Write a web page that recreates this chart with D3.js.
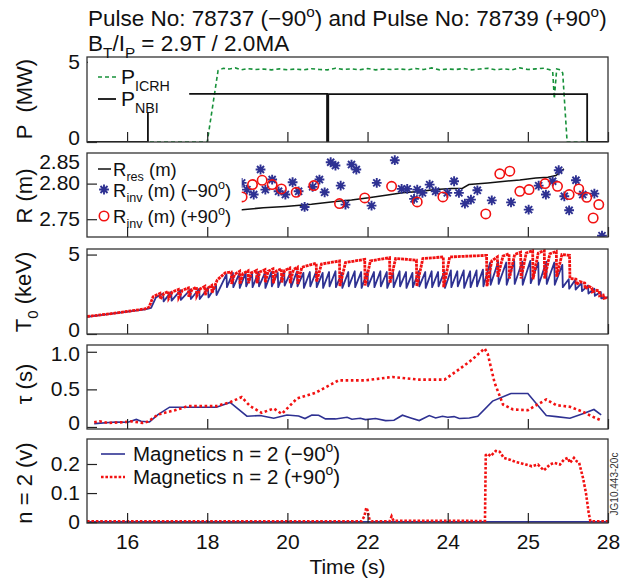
<!DOCTYPE html>
<html><head><meta charset="utf-8">
<script src="https://cdn.jsdelivr.net/npm/d3@7"></script>
<style>body{margin:0;background:#fff}svg{display:block}text{white-space:pre}</style>
</head><body>
<svg id="chart" width="620" height="580"></svg>
<script>
// ---------- data ----------
const xTickValues = [16, 18, 20, 22, 24, 26, 28];
const xTickLabels = ["16", "18", "20", "22", "24", "25", "28"];

// Heating power (MW)
const icrhPower = [[15,0],[18.0,0],[18.27,4.45],[18.4,4.6],[18.55,4.55],[18.7,4.62],[18.85,4.5],[19.0,4.58],[19.2,4.52],[19.4,4.55],[19.6,4.5],[19.8,4.56],[20.0,4.5],[20.2,4.55],[20.4,4.5],[20.6,4.57],[20.8,4.52],[21.0,4.5],[21.2,4.6],[21.4,4.52],[21.6,4.56],[21.8,4.5],[22.0,4.58],[22.2,4.5],[22.4,4.55],[22.6,4.52],[22.8,4.56],[23.0,4.5],[23.2,4.58],[23.4,4.52],[23.6,4.62],[23.8,4.5],[24.0,4.55],[24.2,4.52],[24.4,4.58],[24.6,4.5],[24.8,4.55],[25.0,4.6],[25.2,4.5],[25.4,4.56],[25.6,4.5],[25.8,4.62],[26.0,4.52],[26.2,4.56],[26.4,4.6],[26.55,4.5],[26.62,4.4],[26.66,2.7],[26.72,4.55],[26.82,4.5],[26.87,4.3],[26.98,0],[28,0]];
const nbiPower = [[15,0],[16.52,0],[16.52,3.0],[20.99,3.0],[20.99,0],[21.02,0],[21.02,2.98],[27.48,2.98],[27.48,0],[28,0]];

// Radii (m)
const rRes = [[18.5,2.762],[18.87,2.7634],[19.4,2.766],[19.95,2.768],[20.6,2.771],[21.2,2.775],[21.6,2.777],[22.03,2.780],[22.5,2.784],[22.87,2.787],[23.3,2.789],[23.7,2.7916],[24.1,2.793],[24.37,2.7935],[24.53,2.7986],[25.0,2.801],[25.37,2.803],[25.8,2.805],[26.2,2.808],[26.5,2.809],[26.7,2.8113],[26.83,2.8174],[26.9,2.8207]];
const rInvMinus = [[18.86,2.801],[18.99,2.7916],[19.16,2.7846],[19.33,2.8198],[19.45,2.7916],[19.62,2.8057],[19.78,2.7892],[19.95,2.7846],[20.13,2.8019],[20.28,2.7892],[20.43,2.7672],[20.63,2.7954],[20.8,2.8057],[20.93,2.7878],[21.08,2.830],[21.2,2.8254],[21.33,2.7972],[21.45,2.7705],[21.6,2.8268],[21.72,2.8198],[22.1,2.7691],[22.23,2.801],[22.68,2.8329],[22.85,2.7926],[22.99,2.7926],[23.16,2.7785],[23.24,2.7916],[23.37,2.787],[23.55,2.7986],[23.7,2.7892],[23.99,2.787],[24.16,2.8033],[24.28,2.787],[24.43,2.7719],[24.58,2.7775],[24.74,2.7906],[25.1,2.7765],[25.58,2.7737],[26.02,2.7634],[26.27,2.7972],[26.45,2.7846],[26.62,2.8033],[26.77,2.8188],[26.91,2.7822],[27.03,2.7625],[27.2,2.8047],[27.37,2.7846],[27.66,2.786],[27.85,2.7268]];
const rInvPlus = [[18.87,2.7813],[19.13,2.7986],[19.37,2.8047],[19.62,2.7986],[19.85,2.7926],[20.22,2.7878],[20.66,2.7972],[21.3,2.7719],[21.93,2.7799],[22.6,2.7962],[23.24,2.7743],[23.88,2.7813],[24.95,2.7574],[25.3,2.8137],[25.55,2.8174],[25.8,2.7892],[26.03,2.7916],[26.43,2.800],[26.74,2.7962],[27.03,2.7846],[27.27,2.7926],[27.47,2.7808],[27.63,2.7517],[27.77,2.7705]];

// Central electron temperature (keV)
const t0Plus = [[15.0,1.10],[15.5,1.25],[16.0,1.42],[16.45,1.58],[16.55,1.70],[16.65,2.35],[16.82,2.55],[16.83,2.2],[16.92,2.55],[17.03,2.68],[17.04,2.25],[17.13,2.65],[17.28,2.8],[17.29,2.3],[17.38,2.75],[17.53,2.9],[17.54,2.35],[17.62,2.8],[17.73,2.95],[17.74,2.4],[17.83,2.85],[17.94,3.0],[17.95,2.45],[18.02,2.9],[18.11,3.05],[18.12,2.6],[18.25,3.4],[18.45,3.85],[18.6,3.9],[18.61,3.15],[18.68,3.75],[18.81,3.95],[18.82,3.15],[18.89,3.8],[19.02,3.98],[19.03,3.2],[19.1,3.85],[19.23,4.0],[19.24,3.2],[19.31,3.9],[19.44,4.05],[19.45,3.25],[19.52,3.95],[19.64,4.1],[19.65,3.2],[19.72,3.95],[19.85,4.1],[19.86,3.25],[19.93,4.0],[20.06,4.15],[20.07,3.2],[20.15,4.05],[20.25,4.2],[20.26,3.15],[20.36,4.2],[20.72,4.45],[20.73,3.3],[20.85,4.4],[21.3,4.6],[21.31,3.0],[21.45,4.5],[21.93,4.7],[21.94,3.05],[22.07,4.6],[22.55,4.8],[22.56,3.2],[22.7,4.75],[23.22,4.65],[23.23,3.0],[23.38,4.75],[23.89,4.85],[23.9,2.95],[24.05,4.85],[24.97,4.95],[24.98,3.0],[25.1,4.6],[25.24,4.85],[25.25,3.6],[25.38,4.9],[25.53,5.05],[25.54,3.5],[25.67,5.0],[25.82,5.15],[25.83,3.5],[25.96,5.1],[26.12,5.25],[26.13,3.45],[26.26,5.1],[26.41,5.25],[26.42,3.5],[26.55,5.05],[26.71,5.2],[26.72,3.6],[26.85,5.0],[27.04,4.95],[27.05,3.5],[27.2,3.45],[27.21,3.1],[27.3,3.3],[27.42,3.2],[27.43,2.85],[27.52,3.0],[27.6,2.9],[27.61,2.65],[27.72,2.75],[27.78,2.7],[27.79,2.4],[27.88,2.45],[27.9,2.25],[28.0,2.3]];
const t0MinusStart = [[15.0,1.08],[16.45,1.55],[16.6,1.65],[16.72,2.3]];
// sawtooth crashes: [time, value before crash, value after crash]
const t0MinusCrashes = [[16.9,2.55,2.05],[17.1,2.65,2.1],[17.33,2.75,2.15],[17.58,2.8,2.2],[17.8,2.85,2.2],[18.02,2.9,2.3],[18.22,3.05,2.45],[18.48,3.75,2.95],[18.64,3.85,2.95],[18.8,3.8,2.9],[18.96,3.85,3.0],[19.12,3.8,2.95],[19.28,3.9,3.0],[19.44,3.85,2.9],[19.6,3.9,3.0],[19.76,3.85,2.95],[19.92,3.95,3.05],[20.08,3.9,2.95],[20.24,3.95,3.0],[20.4,3.85,2.9],[20.56,3.9,3.0],[20.72,3.95,2.95],[20.88,3.85,2.9],[21.04,3.9,3.0],[21.2,3.95,2.95],[21.36,3.85,2.9],[21.52,3.9,3.0],[21.68,3.95,2.95],[21.84,3.9,2.9],[22.0,3.95,3.0],[22.16,3.9,2.95],[22.32,3.95,3.0],[22.48,3.9,2.9],[22.64,3.85,2.95],[22.8,3.95,3.0],[22.96,3.9,2.9],[23.12,3.85,2.95],[23.28,3.95,3.0],[23.44,3.9,2.9],[23.6,3.95,2.95],[23.76,3.9,3.0],[23.92,3.95,2.9],[24.08,4.0,2.95],[24.24,3.95,3.0],[24.4,4.0,2.9],[24.56,3.95,2.95],[24.72,4.0,3.0],[24.88,4.05,3.0],[25.06,4.5,3.1],[25.26,4.55,3.15],[25.46,4.5,3.1],[25.66,4.6,3.15],[25.86,4.55,3.1],[26.06,4.6,3.2],[26.26,4.5,3.1],[26.46,4.55,3.15],[26.66,4.5,3.1],[26.86,4.35,2.95],[27.02,3.45,2.85],[27.18,3.4,2.8],[27.34,3.2,2.7],[27.5,3.05,2.55],[27.66,2.85,2.4],[27.82,2.65,2.25]];
const t0MinusEnd = [[28.0,2.3]];

// Sawtooth period (s)
const tauMinus = [[15.18,0.045],[15.72,0.067],[16.02,0.063],[16.23,0.10],[16.35,0.076],[16.56,0.067],[16.77,0.165],[17.06,0.263],[18.23,0.263],[18.57,0.326],[18.99,0.143],[19.32,0.152],[19.66,0.116],[19.99,0.16],[20.28,0.147],[20.44,0.112],[20.61,0.16],[20.78,0.156],[20.95,0.107],[21.2,0.107],[21.49,0.129],[21.61,0.103],[21.82,0.116],[21.95,0.098],[22.2,0.112],[22.45,0.085],[22.66,0.089],[22.87,0.156],[23.08,0.12],[23.29,0.085],[23.54,0.152],[23.7,0.12],[23.87,0.143],[24.0,0.13],[24.16,0.138],[24.29,0.112],[24.54,0.12],[24.75,0.143],[25.12,0.344],[25.58,0.446],[26.0,0.446],[26.46,0.152],[26.71,0.138],[27.05,0.116],[27.39,0.178],[27.65,0.232],[27.83,0.16]];
const tauPlus = [[15.18,0.063],[15.31,0.076],[15.52,0.054],[15.93,0.063],[16.1,0.076],[16.39,0.054],[16.52,0.071],[16.77,0.165],[17.19,0.223],[17.52,0.277],[18.23,0.277],[18.57,0.33],[18.86,0.397],[19.07,0.277],[19.36,0.188],[19.66,0.246],[19.86,0.174],[20.24,0.379],[20.7,0.455],[21.28,0.62],[21.95,0.62],[22.62,0.665],[23.29,0.629],[23.92,0.629],[24.29,0.768],[24.62,0.90],[24.92,1.045],[25.0,0.97],[25.17,0.589],[25.38,0.299],[25.63,0.232],[26.0,0.223],[26.17,0.277],[26.46,0.366],[26.71,0.29],[27.05,0.268],[27.34,0.21],[27.59,0.143],[27.84,0.085]];

// n = 2 magnetics amplitude (V)
const n2Minus = [[15,0.001],[24.95,0.001],[28,0.001]];
const n2Plus = [[15,0.003],[21.85,0.003],[21.92,0.02],[21.97,0.05],[22.0,0.04],[22.05,0.008],[22.1,0.003],[22.55,0.003],[22.6,0.02],[22.65,0.005],[24.93,0.004],[24.95,0.23],[25.0,0.235],[25.07,0.227],[25.2,0.245],[25.3,0.242],[25.4,0.221],[25.55,0.215],[25.7,0.207],[25.8,0.204],[25.95,0.198],[26.1,0.192],[26.25,0.198],[26.4,0.178],[26.55,0.198],[26.65,0.204],[26.8,0.198],[26.9,0.215],[27.0,0.221],[27.05,0.204],[27.15,0.221],[27.22,0.209],[27.28,0.204],[27.38,0.15],[27.45,0.1],[27.52,0.03],[27.56,0.003],[28,0.003]];

// ---------- layout ----------
const FONT = "'Liberation Sans', Arial, Helvetica, sans-serif";
const svg = d3.select("#chart").style("font-family", FONT);
const X0 = 87, X1 = 608;
const x = d3.scaleLinear().domain([15, 28]).range([X0, X1]);

const NAVY = "#2e3192", RED = "#f21111", GREEN = "#17913a";
const TICK_FONT = 21, TITLE_FONT = 22;

const panels = [
  {top: 57,  bottom: 142, domain: [0, 5.3],          ticks: [0, 5],          fmt: d => String(d)},
  {top: 153, bottom: 237, domain: [2.725, 2.843],    ticks: [2.75, 2.80],    fmt: d3.format(".2f")},
  {top: 249, bottom: 334, domain: [0, 5.35],         ticks: [0, 5],          fmt: d => String(d)},
  {top: 345, bottom: 429, domain: [-0.027, 1.09],    ticks: [0, 0.5, 1.0],   fmt: d => d === 0 ? "0" : d3.format(".1f")(d)},
  {top: 439, bottom: 523, domain: [-0.003, 0.286],   ticks: [0, 0.1, 0.2],   fmt: d => d === 0 ? "0" : d3.format(".1f")(d)}
];
panels.forEach((p, i) => {
  p.y = d3.scaleLinear().domain(p.domain).range([p.bottom, p.top]);
  p.id = "clip" + i;
  svg.append("clipPath").attr("id", p.id).append("rect")
    .attr("x", X0).attr("y", p.top).attr("width", X1 - X0).attr("height", p.bottom - p.top);
  p.g = svg.append("g");
  p.data = p.g.append("g").attr("clip-path", `url(#${p.id})`);
});

// rich text helper for sub/superscripts
function rich(sel, x0, y0, parts, size, anchor) {
  const t = sel.append("text").attr("x", x0).attr("y", y0)
    .attr("font-size", size).attr("text-anchor", anchor || "start").attr("fill", "#111");
  let cur = 0;
  parts.forEach(p => {
    const shift = p.sub ? size * 0.32 : p.sup ? -size * 0.42 : 0;
    t.append("tspan").attr("dy", shift - cur)
      .attr("font-size", (p.sub || p.sup) ? size * 0.68 : size).text(p.t);
    cur = shift;
  });
  return t;
}

function lineOf(p) {
  return d3.line().x(d => x(d[0])).y(d => p.y(d[1]));
}

function drawAxes(p, showLabels, zeroRaise) {
  const ax = d3.axisBottom(x).tickValues(xTickValues).tickSize(-10).tickPadding(11)
    .tickFormat((d, i) => showLabels ? xTickLabels[i] : "");
  const gx = p.g.append("g").attr("transform", `translate(0,${p.bottom})`).call(ax);
  const ay = d3.axisLeft(p.y).tickValues(p.ticks).tickSize(-10).tickPadding(7).tickFormat(p.fmt);
  const gy = p.g.append("g").attr("transform", `translate(${X0},0)`).call(ay);
  [gx, gy].forEach(g => {
    g.select(".domain").remove();
    g.selectAll("line").attr("stroke", "#222").attr("stroke-width", 1.2);
    g.selectAll("text").attr("font-size", TICK_FONT).attr("fill", "#111").style("font-family", FONT);
  });
  // zero label sits on the panel floor; lift it a little so it clears the panel below
  gy.selectAll("text").attr("dy", d => (d === 0 && zeroRaise) ? "0.14em" : "0.3em");
  return {gx, gy};
}
function frame(p) {
  p.g.append("rect").attr("x", X0).attr("y", p.top).attr("width", X1 - X0).attr("height", p.bottom - p.top)
    .attr("fill", "none").attr("stroke", "#333").attr("stroke-width", 1.3);
}
function yTitle(p, parts, cx, cy) {
  const g = svg.append("g").attr("transform", `translate(${cx},${cy || (p.top + p.bottom) / 2}) rotate(-90)`);
  rich(g, 0, 0, parts, TITLE_FONT, "middle");
}

// ---------- title ----------
rich(svg, 88, 26, [{t: "Pulse No: 78737 (\u221290"}, {t: "o", sup: true}, {t: ") and Pulse No: 78739 (+90"}, {t: "o", sup: true}, {t: ")"}], 22.5);
rich(svg, 88, 51, [{t: "B"}, {t: "T", sub: true}, {t: "/I"}, {t: "P", sub: true}, {t: " = 2.9T / 2.0MA"}], 22.5);

// ---------- panel 1: power ----------
{
  const p = panels[0];
  p.data.append("path").datum(icrhPower).attr("d", lineOf(p))
    .attr("fill", "none").attr("stroke", GREEN).attr("stroke-width", 1.6).attr("stroke-dasharray", "4,3");
  p.data.append("path").datum(nbiPower).attr("d", lineOf(p))
    .attr("fill", "none").attr("stroke", "#111").attr("stroke-width", 1.8);
  drawAxes(p, false, true);
  p.g.append("rect").attr("x", X0 + 1).attr("y", p.top + 1).attr("width", x(17.55) - X0 - 1).attr("height", 54).attr("fill", "#fff");
  frame(p);
  p.g.append("line").attr("x1", 98).attr("x2", 116).attr("y1", 77).attr("y2", 77)
    .attr("stroke", GREEN).attr("stroke-width", 1.6).attr("stroke-dasharray", "4,3");
  rich(p.g, 121, 84, [{t: "P"}, {t: "ICRH", sub: true}], 21);
  p.g.append("line").attr("x1", 98).attr("x2", 116).attr("y1", 99).attr("y2", 99)
    .attr("stroke", "#111").attr("stroke-width", 1.8);
  rich(p.g, 121, 106, [{t: "P"}, {t: "NBI", sub: true}], 21);
  yTitle(p, [{t: "P  (MW)"}], 32, 99);
}

// ---------- panel 2: radii ----------
function starPath(cx, cy, r) {
  const d = r * 0.72;
  return `M${cx - r},${cy}h${2 * r}M${cx},${cy - r}v${2 * r}M${cx - d},${cy - d}l${2 * d},${2 * d}M${cx - d},${cy + d}l${2 * d},${-2 * d}`;
}
{
  const p = panels[1];
  p.data.append("path").datum(rRes).attr("d", lineOf(p))
    .attr("fill", "none").attr("stroke", "#111").attr("stroke-width", 1.5);
  p.data.selectAll("path.star").data(rInvMinus).join("path").attr("class", "star")
    .attr("d", d => starPath(x(d[0]), p.y(d[1]), 4.9))
    .attr("stroke", NAVY).attr("stroke-width", 1.9).attr("fill", "none");
  p.data.selectAll("circle").data(rInvPlus).join("circle")
    .attr("cx", d => x(d[0])).attr("cy", d => p.y(d[1])).attr("r", 4.7)
    .attr("fill", "none").attr("stroke", RED).attr("stroke-width", 1.6);
  p.g.append("rect").attr("x", X0 + 1).attr("y", p.top + 1).attr("width", x(18.86) - X0 - 1).attr("height", p.bottom - p.top - 2).attr("fill", "#fff");
  drawAxes(p, false, false);
  frame(p);
  p.g.append("text").attr("x", 80).attr("y", p.top + 16).attr("text-anchor", "end")
    .attr("font-size", TICK_FONT).attr("fill", "#111").text("2.85");
  p.g.append("line").attr("x1", 98).attr("x2", 111).attr("y1", 169).attr("y2", 169).attr("stroke", "#111").attr("stroke-width", 1.5);
  rich(p.g, 113, 175.5, [{t: "R"}, {t: "res", sub: true}, {t: " (m)"}], 18.5);
  p.g.append("path").attr("d", starPath(104, 189.5, 4.9)).attr("stroke", NAVY).attr("stroke-width", 1.9).attr("fill", "none");
  rich(p.g, 113, 196.5, [{t: "R"}, {t: "inv", sub: true}, {t: " (m) (\u221290"}, {t: "o", sup: true}, {t: ")"}], 18.5);
  p.g.append("circle").attr("cx", 104).attr("cy", 216).attr("r", 4.7).attr("fill", "none").attr("stroke", RED).attr("stroke-width", 1.6);
  rich(p.g, 113, 222.5, [{t: "R"}, {t: "inv", sub: true}, {t: " (m) (+90"}, {t: "o", sup: true}, {t: ")"}], 18.5);
  yTitle(p, [{t: "R (m)"}], 32, 196);
}

// ---------- panel 3: T0 ----------
{
  const p = panels[2];
  const blue = t0MinusStart.slice();
  t0MinusCrashes.forEach(c => { blue.push([c[0], c[1]]); blue.push([c[0] + 0.012, c[2]]); });
  t0MinusEnd.forEach(d => blue.push(d));
  p.data.append("path").datum(blue).attr("d", lineOf(p))
    .attr("fill", "none").attr("stroke", NAVY).attr("stroke-width", 1.8).attr("stroke-linejoin", "round");
  p.data.append("path").datum(t0Plus).attr("d", lineOf(p))
    .attr("fill", "none").attr("stroke", RED).attr("stroke-width", 2.8).attr("stroke-dasharray", "3,0.8");
  drawAxes(p, false, true);
  frame(p);
  yTitle(p, [{t: "T"}, {t: "0", sub: true}, {t: " (keV)"}], 31, 292);
}

// ---------- panel 4: tau ----------
{
  const p = panels[3];
  p.data.append("path").datum(tauMinus).attr("d", lineOf(p))
    .attr("fill", "none").attr("stroke", NAVY).attr("stroke-width", 1.6);
  p.data.append("path").datum(tauPlus).attr("d", lineOf(p))
    .attr("fill", "none").attr("stroke", RED).attr("stroke-width", 2.6).attr("stroke-dasharray", "2.6,2.6");
  drawAxes(p, false, true);
  p.g.selectAll("g.tick text").filter(d => d === 1.0).attr("dy", "0.4em");
  frame(p);
  yTitle(p, [{t: "\u03c4 (s)"}], 32, 384);
}

// ---------- panel 5: n = 2 ----------
{
  const p = panels[4];
  p.data.append("path").datum(n2Minus).attr("d", lineOf(p))
    .attr("fill", "none").attr("stroke", NAVY).attr("stroke-width", 1.8);
  p.data.append("path").datum(n2Plus).attr("d", lineOf(p))
    .attr("fill", "none").attr("stroke", RED).attr("stroke-width", 2.6).attr("stroke-dasharray", "2.6,1.8");
  drawAxes(p, true, false);
  frame(p);
  p.g.append("line").attr("x1", 101).attr("x2", 125).attr("y1", 454).attr("y2", 454).attr("stroke", NAVY).attr("stroke-width", 1.6);
  rich(p.g, 133, 461, [{t: "Magnetics n = 2 (\u221290"}, {t: "o", sup: true}, {t: ")"}], 20.5);
  p.g.append("line").attr("x1", 101).attr("x2", 125).attr("y1", 477).attr("y2", 477).attr("stroke", RED).attr("stroke-width", 2.6).attr("stroke-dasharray", "2.6,1.8");
  rich(p.g, 133, 484, [{t: "Magnetics n = 2 (+90"}, {t: "o", sup: true}, {t: ")"}], 20.5);
  yTitle(p, [{t: "n = 2 (v)"}], 32, 483);
  svg.append("text").attr("x", (X0 + X1) / 2).attr("y", 574).attr("text-anchor", "middle")
    .attr("font-size", 21).attr("fill", "#111").text("Time (s)");
}

// figure reference tag
svg.append("text").attr("transform", "translate(618,484) rotate(-90)").attr("text-anchor", "middle")
  .attr("font-size", 10).attr("fill", "#333").text("JG10.443-20c");
</script>
</body></html>
